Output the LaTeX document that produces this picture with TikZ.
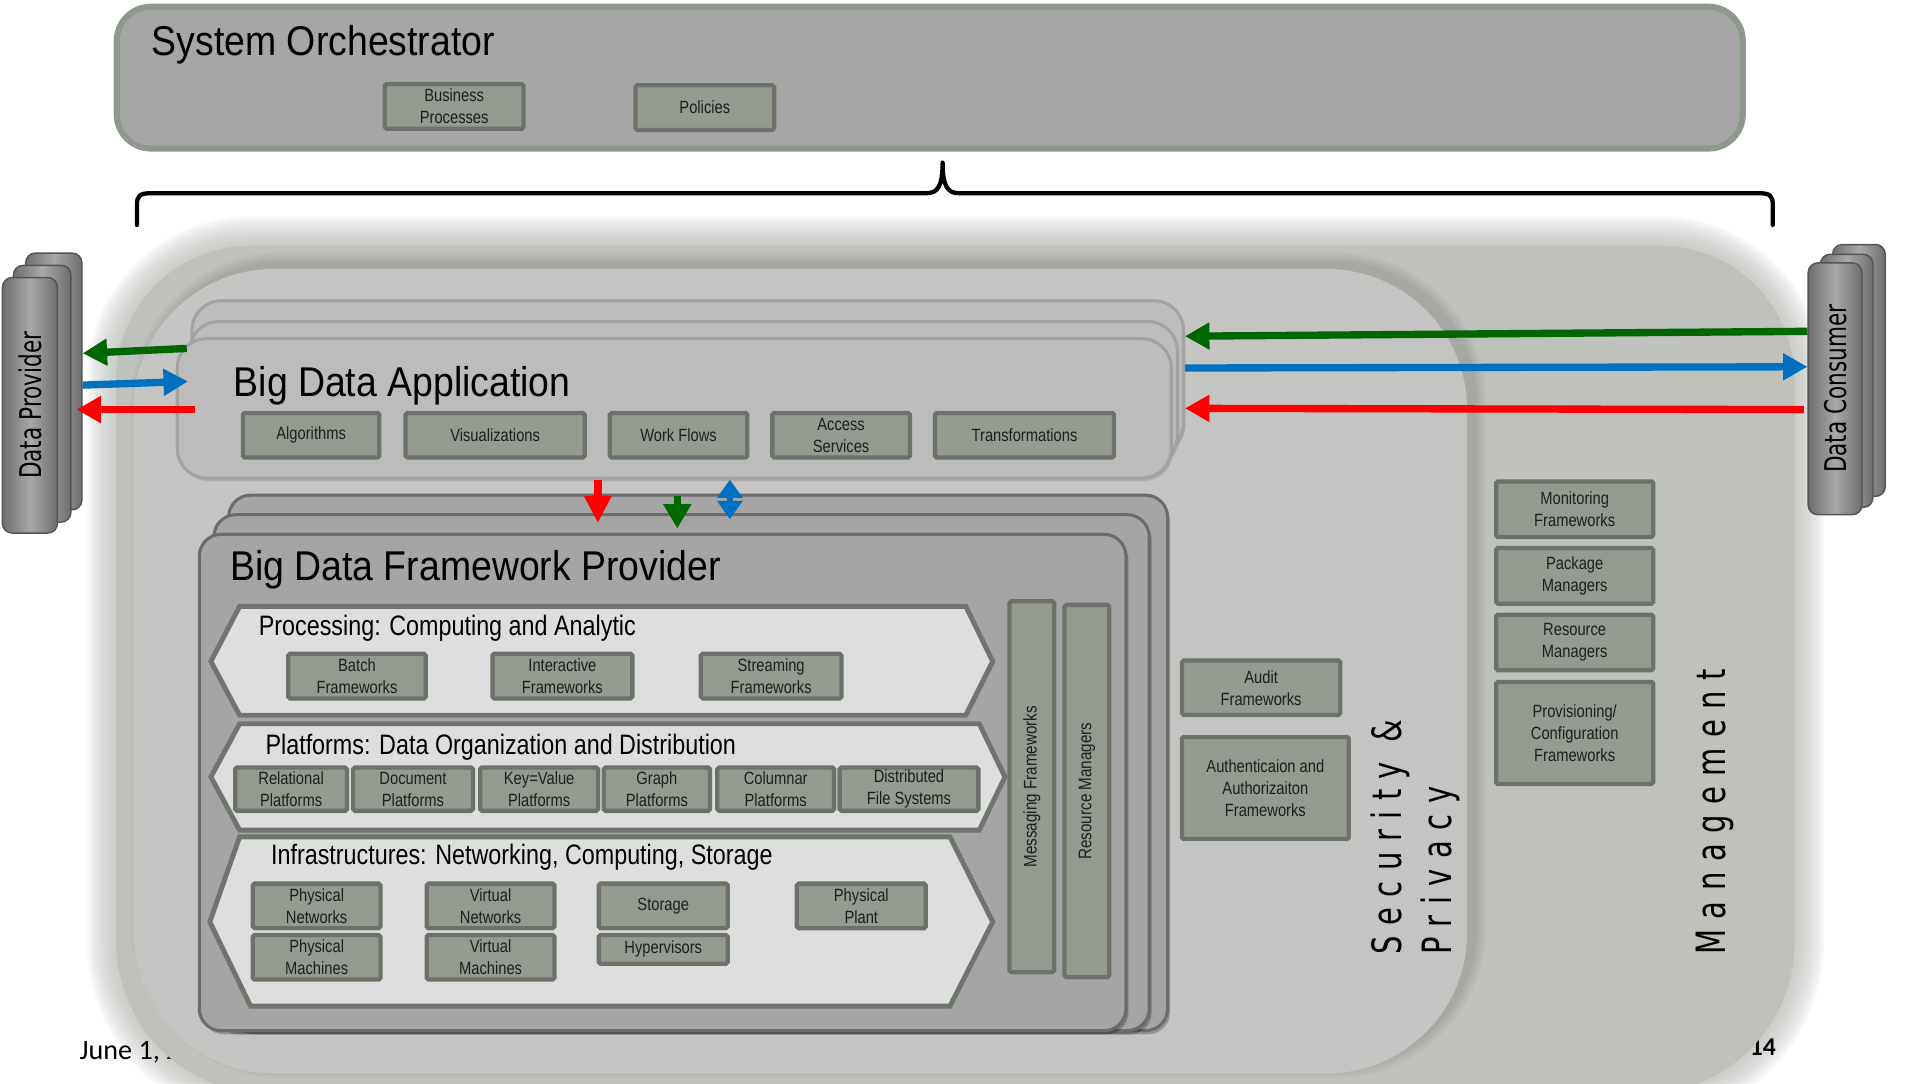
\documentclass[tikz,border=0pt]{standalone}
\usepackage{fontspec}
\setmainfont{Liberation Sans}
\newfontfamily\condfont[FakeStretch=0.83]{Liberation Sans}
\newfontfamily\headfont[FakeStretch=0.9]{Liberation Sans}
\newfontfamily\vertfont[FakeStretch=0.72]{DejaVu Sans}
\newfontfamily\spacedfont[FakeStretch=0.72,LetterSpace=26]{DejaVu Sans}
\newfontfamily\footfont{Carlito}
\usetikzlibrary{arrows.meta,calc}

\definecolor{mgmtfill}{HTML}{BFC1BC}
\definecolor{secfill}{HTML}{C4C5C2}
\definecolor{orchfill}{HTML}{A6A6A6}
\definecolor{orchedge}{HTML}{8F988D}
\definecolor{boxfill}{HTML}{959A90}
\definecolor{boxedge}{HTML}{6C7269}
\definecolor{appfill}{HTML}{BCBCBC}
\definecolor{appedge}{HTML}{A2A2A2}
\definecolor{fwfill}{HTML}{A5A5A5}
\definecolor{fwedge}{HTML}{6B6B6B}
\definecolor{hexfill}{HTML}{DEDEDE}
\definecolor{hexedge}{HTML}{6E756C}
\definecolor{arrgreen}{RGB}{0,102,0}
\definecolor{arrblue}{HTML}{0070C0}
\definecolor{arrred}{HTML}{FF0000}
\definecolor{stackmid}{HTML}{A8A8A8}
\definecolor{stackside}{HTML}{6E6E6E}
\definecolor{stackedge}{HTML}{545454}

\tikzset{
  mgmtpath/.style={insert path={(95-#1,550) [rounded corners=110+#1] -- (95-#1,201-#1) -- (1468+#1,201-#1) -- (1468+#1,550) [rounded corners=125+#1] -- (1468+#1,895+#1) -- (95-#1,895+#1) -- cycle}},
  secpath/.style={insert path={(109-#1,550) [rounded corners=115+#1] -- (109-#1,220-#1) -- (1200+#1,220-#1) -- (1200+#1,878+#1) -- (109-#1,878+#1) -- cycle}},
  comp/.style={draw=boxedge, fill=boxfill, line width=3.5pt, rounded corners=1.5pt, inner sep=0pt,
    align=center, text=black!88, font=\condfont\fontsize{14.5}{18}\selectfont},
  title/.style={anchor=base west, inner sep=0pt, font=\headfont\fontsize{34}{38}\selectfont},
  subtitle/.style={anchor=base west, inner sep=0pt, font=\condfont\fontsize{23}{26}\selectfont},
  actor/.style={draw=stackedge, line width=1.2pt, rounded corners=8pt, left color=stackside,
    right color=stackside, middle color=stackmid, inner sep=0pt},
  applayer/.style={draw=appedge, line width=2.5pt, fill=appfill, rounded corners=24pt, inner sep=0pt,
    preaction={fill=black, fill opacity=0.12, transform canvas={xshift=1.5pt, yshift=-2.5pt}}},
  fwlayer/.style={draw=fwedge, line width=2.5pt, fill=fwfill, rounded corners=18pt, inner sep=0pt,
    preaction={fill=black, fill opacity=0.25, transform canvas={xshift=2pt, yshift=-3pt}}},
  hexband/.style={draw=hexedge, fill=hexfill, line width=4pt, line join=miter},
  flow/.style={line width=6pt, -{Triangle[length=20pt,width=21pt]}},
  vlabel/.style={rotate=90, inner sep=0pt, anchor=north west, align=left,
    font=\spacedfont\fontsize{33}{41}\selectfont},
}

\begin{document}
\begin{tikzpicture}[x=1pt,y=-1pt]
\useasboundingbox (0,0) rectangle (1568,886);
\clip (0,0) rectangle (1568,886);
\fill[white] (0,0) rectangle (1568,886);

% soft rim of the management panel
\foreach \d in {24,22,...,2} {\fill[mgmtfill, fill opacity=0.1, mgmtpath=\d];}

% footer
\node[font=\footfont\fontsize{23}{26}\selectfont, anchor=base west, inner sep=0pt] (date) at (65,867) {June 1, 2};
\node[font=\footfont\bfseries\fontsize{21}{24}\selectfont, anchor=base west, inner sep=0pt] (pageno) at (1431,863) {14};

% management panel
\fill[mgmtfill, mgmtpath=0];

% security & privacy panel with its shadow towards the upper right
\begin{scope}[xshift=7pt, yshift=5pt]
  \foreach \d in {1,3,...,9} {\fill[black, fill opacity=0.025, secpath=\d];}
\end{scope}
\fill[secfill, secpath=0];

% system orchestrator
\node[draw=orchedge, fill=orchfill, line width=5pt, rounded corners=28pt, minimum width=1330, minimum height=116, inner sep=0pt] (orch) at (760.5,63.5) {};
\node[title] (orchtitle) at (124,45) {System Orchestrator};
\node[comp, minimum width=113.5, minimum height=36.5] (bp) at (371.5,87) {Business\\Processes};
\node[comp, minimum width=113.5, minimum height=36.5] (pol) at (576.5,88) {Policies};

% brace spanning the roles below the orchestrator
\draw[line width=3.5pt, line cap=round, line join=round]
  (112,184) -- (112,168) .. controls (112,160) and (114,158) .. (124,158) -- (758,158)
  .. controls (767,158) and (771,152) .. (771,133)
  .. controls (771,152) and (775,158) .. (784,158) -- (1438,158)
  .. controls (1448,158) and (1450,160) .. (1450,168) -- (1450,184);

% data provider stack
\node[actor, minimum width=46, minimum height=210] (dp3) at (44,312) {};
\node[actor, minimum width=47, minimum height=210] (dp2) at (34.5,322) {};
\node[actor, minimum width=45, minimum height=209, font=\vertfont\fontsize{24.5}{28}\selectfont] (dp1) at (24.5,331.5) {\rotatebox{90}{Data Provider}};

% data consumer stack
\node[actor, minimum width=43, minimum height=206] (dc3) at (1520.5,303) {};
\node[actor, minimum width=43, minimum height=207] (dc2) at (1510.5,311.5) {};
\node[actor, minimum width=44, minimum height=206, font=\vertfont\fontsize{24.5}{28}\selectfont] (dc1) at (1501,318) {\rotatebox{90}{Data Consumer}};

% big data application
\node[applayer, minimum width=811, minimum height=124] (bda3) at (562.5,308) {};
\node[applayer, minimum width=808, minimum height=117] (bda2) at (559,321.5) {};
\node[applayer, minimum width=813, minimum height=114] (bda1) at (551.5,334) {};
\node[title] (bdatitle) at (191,324) {Big Data Application};
\node[comp, minimum width=111.5, minimum height=36.5] (algo) at (254.5,356) {Algorithms};
\node[comp, minimum width=146.5, minimum height=36.5] (vis) at (405,356) {Visualizations};
\node[comp, minimum width=112.5, minimum height=36.5] (wf) at (555,356) {Work Flows};
\node[comp, minimum width=112.5, minimum height=36.5] (acc) at (688,356) {Access\\Services};
\node[comp, minimum width=146.5, minimum height=36.5] (trans) at (838,356) {Transformations};

% big data framework provider
\node[fwlayer, minimum width=768, minimum height=438] (fw3) at (571,624) {};
\node[fwlayer, minimum width=765, minimum height=422] (fw2) at (557.5,632) {};
\node[fwlayer, minimum width=758, minimum height=406] (fw1) at (542,640) {};
\node[title] (fwtitle) at (188,474.5) {Big Data Framework Provider};

\draw[hexband] (172.5,541) -- (196,496) -- (790,496) -- (812,541) -- (790,585) -- (196,585) -- cycle;
\draw[hexband] (172.5,635.5) -- (196,592) -- (801,592) -- (822,635.5) -- (801,679) -- (196,679) -- cycle;
\draw[hexband] (171.6,754) -- (196,684.5) -- (777,684.5) -- (812,754) -- (777,823) -- (205,823) -- cycle;

\node[subtitle] (proctitle) at (211.5,520) {Processing: Computing and Analytic};
\node[subtitle] (plattitle) at (217,617) {Platforms: Data Organization and Distribution};
\node[subtitle] (infratitle) at (221.5,707) {Infrastructures: Networking, Computing, Storage};

\node[comp, minimum width=112.5, minimum height=36.5] (batch) at (292,553) {Batch\\Frameworks};
\node[comp, minimum width=114.5, minimum height=36.5] (inter) at (460,553) {Interactive\\Frameworks};
\node[comp, minimum width=115, minimum height=36.5] (stream) at (630.75,553) {Streaming\\Frameworks};

\node[comp, minimum width=91.5, minimum height=35.5] (rel) at (238.1,645.5) {Relational\\Platforms};
\node[comp, minimum width=98, minimum height=35.5] (doc) at (337.8,645.5) {Document\\Platforms};
\node[comp, minimum width=96.5, minimum height=35.5] (kv) at (441,645.5) {Key=Value\\Platforms};
\node[comp, minimum width=87, minimum height=35.5] (graph) at (537.3,645.5) {Graph\\Platforms};
\node[comp, minimum width=95.5, minimum height=35.5] (col) at (634.5,645.5) {Columnar\\Platforms};
\node[comp, minimum width=113.5, minimum height=35.5] (dfs) at (743.5,645.5) {Distributed\\File Systems};

\node[comp, minimum width=104.5, minimum height=36.5] (pn) at (259,741) {Physical\\Networks};
\node[comp, minimum width=104.5, minimum height=36.5] (pm) at (259,783) {Physical\\Machines};
\node[comp, minimum width=104.5, minimum height=36.5] (vn) at (401.25,741) {Virtual\\Networks};
\node[comp, minimum width=104.5, minimum height=36.5] (vm) at (401.25,783) {Virtual\\Machines};
\node[comp, minimum width=105.5, minimum height=36.5] (sto) at (542.5,741) {Storage};
\node[comp, minimum width=105.5, minimum height=23.5] (hyp) at (542.5,776.5) {Hypervisors};
\node[comp, minimum width=105.5, minimum height=36.5] (pp) at (704.5,741) {Physical\\Plant};

\node[comp, minimum width=36.5, minimum height=303.5, font=\condfont\fontsize{15}{18}\selectfont] (msg) at (844,643.5) {\rotatebox{90}{Messaging Frameworks}};
\node[comp, minimum width=36.5, minimum height=304.5, font=\condfont\fontsize{15}{18}\selectfont] (rm) at (889,647) {\rotatebox{90}{Resource Managers}};

% security and privacy
\node[comp, minimum width=129.5, minimum height=44.5] (audit) at (1031.5,562.5) {Audit\\Frameworks};
\node[comp, minimum width=136.5, minimum height=83.5] (auth) at (1035,644.5) {Authenticaion and\\Authorizaiton\\Frameworks};
\node[vlabel] (seclabel) at (1121,781) {Security \&\\Privacy};

% management
\node[comp, minimum width=128.5, minimum height=45.5] (mon) at (1288,416.5) {Monitoring\\Frameworks};
\node[comp, minimum width=128.5, minimum height=45.5] (pkg) at (1288,471) {Package\\Managers};
\node[comp, minimum width=128.5, minimum height=45.5] (res) at (1288,525.5) {Resource\\Managers};
\node[comp, minimum width=128.5, minimum height=83.5] (prov) at (1288,599.5) {Provisioning/\\Configuration\\Frameworks};
\node[vlabel] (mgmtlabel) at (1387,781) {Management};

% flows between provider and application
\draw[flow, arrgreen] ($(bda1.west |- 0,285)+(9,0)$) -- (dp3.east |- 0,289);
\draw[flow, arrblue] (dp3.east |- 0,315) -- ($(bda1.west |- 0,312)+(10,0)$);
\draw[flow, arrred] ($(bda1.west |- 0,335)+(16,0)$) -- ($(dp3.east |- 0,335)+(-5,0)$);

% flows between application and consumer
\draw[flow, arrgreen] (dc1.west |- 0,271) -- (bda3.east |- 0,275);
\draw[flow, arrblue] (bda3.east |- 0,301) -- (dc1.west |- 0,300);
\draw[flow, arrred] ($(dc1.west |- 0,335)+(-3,0)$) -- (bda3.east |- 0,334);

% flows between application and framework provider
\draw[arrred, line width=6pt, -{Triangle[length=22pt,width=21pt]}] (bda1.south -| 489,0) -- ($(fw3.north -| 489,0)+(0,24)$);
\draw[arrgreen, line width=6pt, -{Triangle[length=20pt,width=22pt]}] ($(fw3.north -| 554,0)+(0,2)$) -- ($(fw2.north -| 554,0)+(0,12.5)$);
\draw[arrblue, line width=5pt, {Triangle[length=15pt,width=20pt]}-{Triangle[length=15pt,width=20pt]}] (bda1.south -| 597,0) -- ($(fw3.north -| 597,0)+(0,21)$);
\end{tikzpicture}
\end{document}
